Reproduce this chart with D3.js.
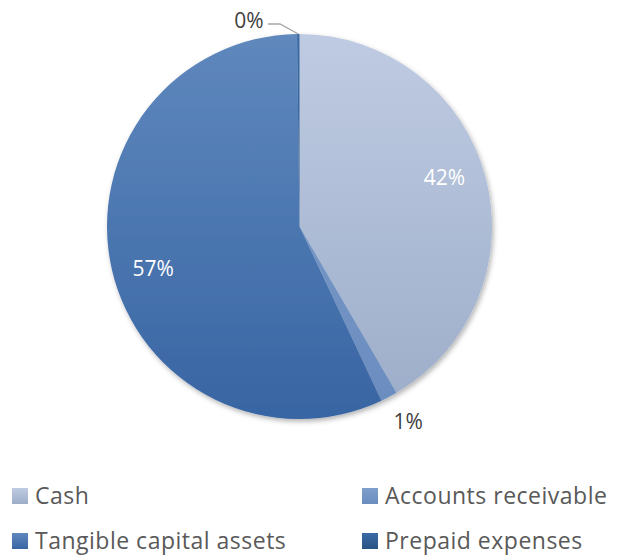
<!DOCTYPE html>
<html>
<head>
<meta charset="utf-8">
<script src="https://cdn.jsdelivr.net/npm/d3@7"></script>
<style>
  body { margin: 0; background: #fff; }
  text { font-family: "Open Sans", sans-serif; }
</style>
</head>
<body>
<div id="chart"></div>
<script>
// Share of assets (percent), clockwise from 12 o'clock
const categories = ["Cash", "Accounts receivable", "Tangible capital assets", "Prepaid expenses"];
const values = [41.6, 1.4, 56.8, 0.2];
const labels = ["42%", "1%", "57%", "0%"];
// gradient top / bottom colours per slice
const colorsTop = ["#bfcbe2", "#7fa0cc", "#5f88bd", "#3a6aa6"];
const colorsBottom = ["#9cadc9", "#6a8cbf", "#3865a3", "#2a5385"];

const width = 624, height = 555;
const cx = 299.5, cy = 226.5, radius = 192.5;

const svg = d3.select("#chart").append("svg")
  .attr("width", width)
  .attr("height", height);

const defs = svg.append("defs");

const shadow = defs.append("filter")
  .attr("id", "shadow")
  .attr("x", "-10%").attr("y", "-10%")
  .attr("width", "120%").attr("height", "120%");
shadow.append("feDropShadow")
  .attr("dx", 1.5).attr("dy", 2.5)
  .attr("stdDeviation", 2.5)
  .attr("flood-color", "#000")
  .attr("flood-opacity", 0.3);

// slice gradients, in the pie group's coordinates
categories.forEach((c, i) => {
  const g = defs.append("linearGradient")
    .attr("id", "grad" + i)
    .attr("gradientUnits", "userSpaceOnUse")
    .attr("x1", 0).attr("x2", 0)
    .attr("y1", -radius).attr("y2", radius);
  g.append("stop").attr("offset", "0%").attr("stop-color", colorsTop[i]);
  g.append("stop").attr("offset", "100%").attr("stop-color", colorsBottom[i]);

  const lg = defs.append("linearGradient")
    .attr("id", "lg" + i)
    .attr("x1", 0).attr("x2", 0).attr("y1", 0).attr("y2", 1);
  lg.append("stop").attr("offset", "0%").attr("stop-color", colorsTop[i]);
  lg.append("stop").attr("offset", "100%").attr("stop-color", colorsBottom[i]);
});

const data = categories.map((c, i) => ({ name: c, value: values[i], label: labels[i], i }));

const pie = d3.pie().value(d => d.value).sort(null);
const arcs = pie(data);

const arc = d3.arc().innerRadius(0).outerRadius(radius);

const g = svg.append("g")
  .attr("transform", `translate(${cx},${cy})`);

g.append("g")
  .attr("filter", "url(#shadow)")
  .selectAll("path")
  .data(arcs)
  .join("path")
    .attr("d", arc)
    .attr("fill", d => `url(#grad${d.data.i})`);

// inside labels (white)
const labelArc = d3.arc().innerRadius(radius * 0.78).outerRadius(radius * 0.78);
const insideOffsets = { 0: [0, -10], 2: [0, 8] };

g.selectAll("text.inside")
  .data(arcs.filter(d => d.data.i === 0 || d.data.i === 2))
  .join("text")
    .attr("class", "inside")
    .attr("x", d => labelArc.centroid(d)[0] + insideOffsets[d.data.i][0])
    .attr("y", d => labelArc.centroid(d)[1] + insideOffsets[d.data.i][1])
    .attr("text-anchor", "middle")
    .attr("dominant-baseline", "central")
    .attr("fill", "#fff")
    .attr("font-size", 21)
    .text(d => d.data.label);

// outside label for accounts receivable
const outArc = d3.arc().innerRadius(radius * 1.14).outerRadius(radius * 1.14);
const ar = arcs[1];
g.append("text")
  .attr("x", outArc.centroid(ar)[0] + 6.5)
  .attr("y", outArc.centroid(ar)[1])
  .attr("text-anchor", "middle")
  .attr("dominant-baseline", "central")
  .attr("fill", "#404040")
  .attr("font-size", 21)
  .text(ar.data.label);

// prepaid expenses: label with leader line
const pp = arcs[3];
const ppAngle = (pp.startAngle + pp.endAngle) / 2;
const edge = [Math.sin(ppAngle) * radius, -Math.cos(ppAngle) * radius];
g.append("polyline")
  .attr("points", [[edge[0], edge[1]], [-19.5, -radius - 10], [-31.5, -radius - 10]].map(p => p.join(",")).join(" "))
  .attr("fill", "none")
  .attr("stroke", "#a6a6a6")
  .attr("stroke-width", 1.3);
g.append("text")
  .attr("x", -50.5)
  .attr("y", -radius - 14)
  .attr("text-anchor", "middle")
  .attr("dominant-baseline", "central")
  .attr("fill", "#404040")
  .attr("font-size", 21)
  .text(pp.data.label);

// legend
const legendX = d3.scaleOrdinal().domain([0, 1]).range([12, 362]);
const legendY = d3.scaleOrdinal().domain([0, 1]).range([496, 541]);

const legend = svg.append("g")
  .selectAll("g")
  .data(data)
  .join("g")
    .attr("transform", d => `translate(${legendX(d.i % 2)},${legendY(Math.floor(d.i / 2))})`);

legend.append("rect")
  .attr("x", 0).attr("y", -8)
  .attr("width", 16).attr("height", 16)
  .attr("fill", d => `url(#lg${d.i})`);

legend.append("text")
  .attr("x", 23)
  .attr("y", 8)
  .attr("fill", "#595959")
  .attr("font-size", 23)
  .attr("letter-spacing", 0.5)
  .text(d => d.name);
</script>
</body>
</html>
